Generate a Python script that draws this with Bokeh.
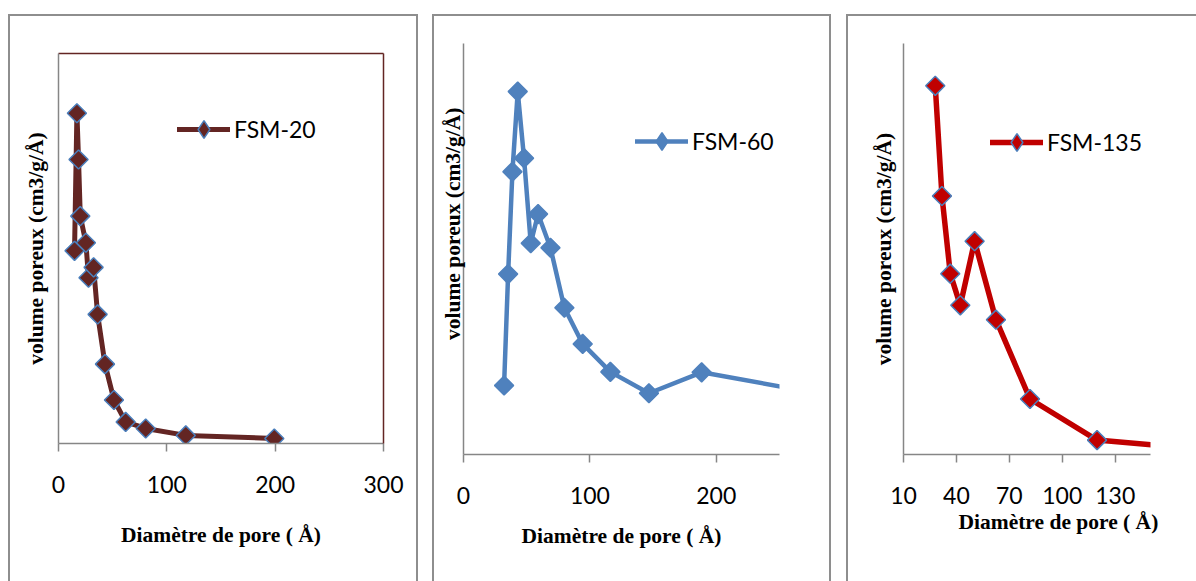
import numpy as np
from bokeh.plotting import figure
from bokeh.models import (Range1d, FixedTicker, LinearAxis, Legend, LegendItem, Title,
                          ColumnDataSource)
from bokeh.layouts import row
from bokeh.embed import file_html
from bokeh.resources import INLINE

# ---------------- data (pore diameter in Å, relative pore volume) ----------------
fsm20_d = [14.8, 17.0, 18.5, 20.1, 25.3, 27.7, 32.4, 36.1, 42.9, 51.2, 62.0, 80.5, 117.5, 199.2]
fsm20_v = [0.488, 0.845, 0.725, 0.578, 0.509, 0.418, 0.445, 0.323, 0.194, 0.101, 0.044, 0.027, 0.009, 0.001]

fsm60_d = [32.1, 35.3, 38.7, 42.9, 47.9, 53.2, 59.0, 68.8, 79.8, 94.3, 116.2, 146.7, 188.4, 300.0]
fsm60_v = [0.168, 0.439, 0.688, 0.883, 0.721, 0.514, 0.585, 0.503, 0.357, 0.269, 0.201, 0.149, 0.200, 0.138]

fsm135_d = [28.0, 31.8, 36.5, 42.2, 50.3, 62.4, 81.7, 119.7, 200.0]
fsm135_v = [0.897, 0.629, 0.440, 0.363, 0.519, 0.328, 0.135, 0.035, 0.006]

ticks20 = [0, 100, 200, 300]
ticks60 = [0, 100, 200]
ticks135 = [10, 40, 70, 100, 130]

XTITLE = "Diamètre de pore ( Å)"
YTITLE = "volume poreux (cm3/g/Å)"

AXIS_GRAY = "#868686"
FRAME_GRAY = "#8e8e8e"
TICK_FONT = "Lato"
TITLE_FONT = "Liberation Serif"
TITLE_SIZE = "21.5px"

BOX3 = {"box-shadow": f"inset 2px 0 0 0 {FRAME_GRAY}, inset 0 2px 0 0 {FRAME_GRAY}, "
                      f"inset -2px 0 0 0 {FRAME_GRAY}"}
BOX2 = {"box-shadow": f"inset 2px 0 0 0 {FRAME_GRAY}, inset 0 2px 0 0 {FRAME_GRAY}"}


def base_fig(width, left, right, top, bottom, xr, yr, margin, styles):
    p = figure(width=width, height=567, x_range=Range1d(*xr), y_range=Range1d(*yr),
               output_backend="svg", toolbar_location=None,
               min_border_left=left, min_border_right=right,
               min_border_top=top, min_border_bottom=bottom,
               margin=margin, styles=styles)
    if "frame_align" in p.properties():
        p.frame_align = False
    p.grid.visible = False
    p.outline_line_color = None
    p.background_fill_color = "white"
    p.border_fill_alpha = 0
    # y axis: line only
    p.yaxis.ticker = FixedTicker(ticks=[])
    p.yaxis.major_tick_out = 0
    p.yaxis.major_tick_in = 0
    p.yaxis.minor_tick_out = 0
    p.yaxis.minor_tick_in = 0
    p.yaxis.major_label_standoff = 0
    p.yaxis.axis_line_color = AXIS_GRAY
    p.yaxis.axis_line_width = 1.5
    # x axis
    p.xaxis.major_tick_out = 8
    p.xaxis.major_tick_in = 0
    p.xaxis.minor_tick_line_color = None
    p.xaxis.axis_line_color = AXIS_GRAY
    p.xaxis.axis_line_width = 1.5
    p.xaxis.major_tick_line_color = AXIS_GRAY
    p.xaxis.major_tick_line_width = 1.5
    p.xaxis.major_label_text_font = TICK_FONT
    p.xaxis.major_label_text_font_size = "23px"
    p.xaxis.major_label_text_color = "black"
    p.xaxis.major_label_standoff = 24
    for ax in (p.xaxis, p.yaxis):
        ax.axis_label_text_font = TITLE_FONT
        ax.axis_label_text_font_style = "bold"
        ax.axis_label_text_font_size = TITLE_SIZE
        ax.axis_label_text_color = "black"
    return p


def add_series(p, xs, ys, color, edge, lw, label, loc):
    src = ColumnDataSource(dict(x=xs, y=ys))
    ln = p.line("x", "y", source=src, line_color=color, line_width=lw,
                line_cap="round", line_join="round")
    p.scatter("x", "y", source=src, marker="square", angle=np.pi / 4, size=13.5,
              fill_color=color, line_color=edge, line_width=1.5)
    # legend key marker (hidden on the plot, only used to draw the legend sample)
    key = p.scatter("x", "y", source=src, marker="diamond", size=10,
                    fill_color=color, line_color=edge, line_width=1.5, visible=False)
    leg = Legend(items=[LegendItem(label=label, renderers=[ln, key])], location=loc,
                 glyph_width=53, glyph_height=44, label_height=44, padding=0, margin=0,
                 spacing=0, label_standoff=4, border_line_color=None,
                 background_fill_alpha=0, inactive_fill_alpha=0,
                 label_text_font=TICK_FONT, label_text_font_size="23px",
                 label_text_color="black")
    p.add_layout(leg)


def title_kw():
    return dict(text_font=TITLE_FONT, text_font_style="bold", text_font_size=TITLE_SIZE,
                text_color="black")


# ---------------- panel 1 : FSM-20 ----------------
p1 = base_fig(410, 50, 35, 39, 138, (0, 300), (-0.012, 1.0), (14, 0, 0, 8), BOX3)
p1.xaxis.ticker = FixedTicker(ticks=ticks20)
p1.xaxis.axis_label = XTITLE
p1.xaxis.axis_label_standoff = 27
p1.yaxis.axis_label = YTITLE
p1.yaxis.axis_label_standoff = 11
for side in ("above", "right"):
    ax = LinearAxis(ticker=FixedTicker(ticks=[]), axis_line_color="#632523",
                    axis_line_width=1.5, major_tick_out=0, major_tick_in=0,
                    minor_tick_out=0, minor_tick_in=0, major_label_standoff=0)
    p1.add_layout(ax, side)
add_series(p1, fsm20_d, fsm20_v, "#632523", "#4a7ebb", 5, "FSM-20", (119, 292))

# ---------------- panel 2 : FSM-60 ----------------
p2 = base_fig(399, 31, 52, 29, 127, (0, 250), (0, 1.0), (14, 0, 0, 14), BOX3)
p2.xaxis.ticker = FixedTicker(ticks=ticks60)
p2.xaxis.axis_label = XTITLE
p2.xaxis.axis_label_standoff = 17
p2.yaxis.major_tick_out = 5
add_series(p2, fsm60_d, fsm60_v, "#4f81bd", "#4f81bd", 4.5, "FSM-60", (172, 291))
p2.add_layout(Title(text=YTITLE, align="right", offset=64, standoff=-2, **title_kw()), "left")

# ---------------- panel 3 : FSM-135 ----------------
p3 = base_fig(350, 57, 46, 29, 127, (10, 150), (0, 1.0), (14, 0, 0, 15), BOX2)
p3.xaxis.ticker = FixedTicker(ticks=ticks135)
p3.yaxis.axis_label = YTITLE
p3.yaxis.axis_label_standoff = 8
add_series(p3, fsm135_d, fsm135_v, "#c00000", "#4a7ebb", 5.5, "FSM-135", (87, 290))
p3.add_layout(Title(text=XTITLE, align="left", offset=55, standoff=6,
                    vertical_align="top", **title_kw()), "below")

layout = row(p1, p2, p3, spacing=0)
open("out.html", "w").write(file_html(layout, INLINE))
